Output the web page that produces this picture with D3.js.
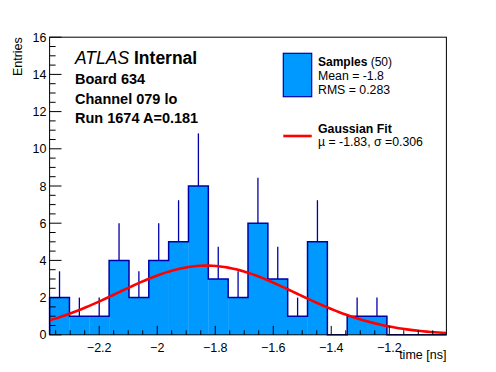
<!DOCTYPE html>
<html>
<head>
<meta charset="utf-8">
<script src="https://cdn.jsdelivr.net/npm/d3@7"></script>
<style>
  body { margin: 0; background: #fff; }
  svg { display: block; font-family: "Liberation Sans", Arial, sans-serif; }
</style>
</head>
<body>
<svg width="496" height="372"></svg>
<script>
// histogram: 20 bins of time, counts
var xRange = [-2.371, -1.003];
var counts = [2, 1, 1, 4, 2, 4, 5, 8, 3, 2, 6, 3, 1, 5, 0, 1, 1, 0, 0, 0];
var xTicks = [-2.2, -2, -1.8, -1.6, -1.4, -1.2];
var yTicks = [0, 2, 4, 6, 8, 10, 12, 14, 16];
var fit = { amp: 3.72, mu: -1.83, sigma: 0.306 };
var labelLines = ['Board 634', 'Channel 079 lo', 'Run 1674 A=0.181'];

var W = 496, H = 372;
var L = 49.6, R = 446.4, T = 37.2, B = 334.8;
var svg = d3.select('svg');

var x = d3.scaleLinear().domain(xRange).range([L, R]);
var y = d3.scaleLinear().domain([0, 16]).range([B, T]);

var fillCol = '#0099ff', lineCol = '#0000a8';
var nb = counts.length;
var bw = (xRange[1] - xRange[0]) / nb;
var bins = counts.map(function(c, i) {
  return { lo: xRange[0] + i * bw, hi: xRange[0] + (i + 1) * bw, v: c };
});

// filled bars
svg.append('g').selectAll('rect').data(bins).enter().append('rect')
  .attr('x', function(d) { return x(d.lo); })
  .attr('y', function(d) { return y(d.v); })
  .attr('width', function(d) { return x(d.hi) - x(d.lo) + 0.3; })
  .attr('height', function(d) { return y(0) - y(d.v); })
  .attr('fill', fillCol);

// error bars (upper half, the rest is under the fill)
svg.append('g').selectAll('line').data(bins.filter(function(d) { return d.v > 0; })).enter().append('line')
  .attr('x1', function(d) { return x((d.lo + d.hi) / 2); })
  .attr('x2', function(d) { return x((d.lo + d.hi) / 2); })
  .attr('y1', function(d) { return y(d.v); })
  .attr('y2', function(d) { return y(d.v + Math.sqrt(d.v)); })
  .attr('stroke', lineCol).attr('stroke-width', 1.3);

// outline as step path
var pts = [[x(xRange[0]), y(0)]];
bins.forEach(function(d) { pts.push([x(d.lo), y(d.v)]); pts.push([x(d.hi), y(d.v)]); });
pts.push([x(xRange[1]), y(0)]);
svg.append('path').attr('d', d3.line()(pts))
  .attr('fill', 'none').attr('stroke', lineCol).attr('stroke-width', 1.5);

// gaussian fit
var gx = d3.range(0, 101).map(function(i) { return xRange[0] + i * (xRange[1] - xRange[0]) / 100; });
var gauss = function(v) { return fit.amp * Math.exp(-Math.pow(v - fit.mu, 2) / (2 * fit.sigma * fit.sigma)); };
svg.append('path')
  .attr('d', d3.line().x(function(d) { return x(d); }).y(function(d) { return y(gauss(d)); })(gx))
  .attr('fill', 'none').attr('stroke', '#ff0000').attr('stroke-width', 2.6);

// frame
svg.append('rect').attr('x', L).attr('y', T).attr('width', R - L).attr('height', B - T)
  .attr('fill', 'none').attr('stroke', '#000').attr('stroke-width', 1);

// x axis ticks
var xMinor = d3.range(-2.35, -1.0, 0.05);
svg.append('g').selectAll('line').data(xMinor).enter().append('line')
  .attr('x1', function(d) { return x(d); }).attr('x2', function(d) { return x(d); })
  .attr('y1', B).attr('y2', function(d) {
    var major = xTicks.some(function(t) { return Math.abs(t - d) < 1e-6; });
    return B - (major ? 8.9 : 4.5);
  })
  .attr('stroke', '#000');
svg.append('g').selectAll('text').data(xTicks).enter().append('text')
  .attr('x', function(d) { return x(d); }).attr('y', 352)
  .attr('text-anchor', 'middle').attr('font-size', 12.5)
  .text(function(d) { return d3.format('')(d); });
svg.append('text').attr('x', R).attr('y', 359).attr('text-anchor', 'end')
  .attr('font-size', 12.5).text('time [ns]');

// y axis ticks
var yMinor = d3.range(0, 16.01, 0.5);
svg.append('g').selectAll('line').data(yMinor).enter().append('line')
  .attr('x1', L).attr('x2', function(d) { return L + (d % 2 === 0 ? 11.9 : 6); })
  .attr('y1', function(d) { return y(d); }).attr('y2', function(d) { return y(d); })
  .attr('stroke', '#000');
svg.append('g').selectAll('text').data(yTicks).enter().append('text')
  .attr('x', 46.5).attr('y', function(d) { return y(d) + 4.5; })
  .attr('text-anchor', 'end').attr('font-size', 12.5)
  .text(function(d) { return d; });
svg.append('text').attr('transform', 'translate(22,' + T + ') rotate(-90)')
  .attr('text-anchor', 'end').attr('font-size', 12.5).text('Entries');

// ATLAS label
var atl = svg.append('text').attr('x', 75).attr('y', 64).attr('font-size', 17.5);
atl.append('tspan').attr('font-style', 'italic').text('ATLAS');
atl.append('tspan').attr('font-weight', 'bold').text(' Internal');
svg.append('g').selectAll('text').data(labelLines).enter().append('text')
  .attr('x', 75).attr('y', function(d, i) { return 84 + i * 19.5; })
  .attr('font-size', 14.5).attr('font-weight', 'bold').text(function(d) { return d; });

// legend
svg.append('rect').attr('x', 283.3).attr('y', 53.3).attr('width', 28.4).attr('height', 43.4)
  .attr('fill', fillCol).attr('stroke', lineCol).attr('stroke-width', 1.2);
var s = svg.append('text').attr('x', 318).attr('y', 66).attr('font-size', 12);
s.append('tspan').attr('font-weight', 'bold').text('Samples');
s.append('tspan').text(' (50)');
svg.append('text').attr('x', 318).attr('y', 80).attr('font-size', 12.3).text('Mean = -1.8');
svg.append('text').attr('x', 318).attr('y', 94).attr('font-size', 12.3).text('RMS = 0.283');
svg.append('line').attr('x1', 283.3).attr('x2', 311.7).attr('y1', 136).attr('y2', 136)
  .attr('stroke', '#ff0000').attr('stroke-width', 2.6);
svg.append('text').attr('x', 318).attr('y', 133).attr('font-size', 12.3)
  .attr('font-weight', 'bold').text('Gaussian Fit');
svg.append('text').attr('x', 318).attr('y', 146).attr('font-size', 12.3)
  .text('\u00b5 = -1.83, \u03c3 =0.306');
</script>
</body>
</html>
